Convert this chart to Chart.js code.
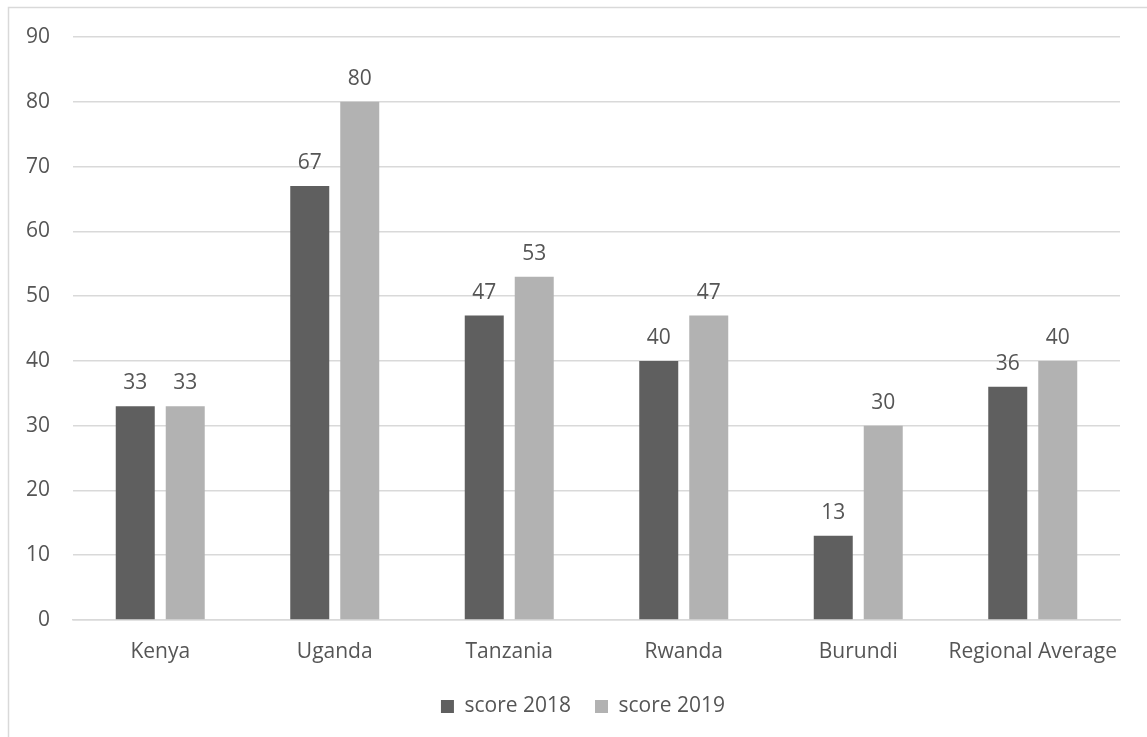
<!DOCTYPE html>
<html>
<head>
<meta charset="utf-8">
<script src="https://cdn.jsdelivr.net/npm/chart.js@4/dist/chart.umd.min.js"></script>
<style>
  html, body { margin: 0; padding: 0; background: #ffffff; }
  #wrap { position: relative; width: 1147px; height: 737px; }
  canvas { display: block; }
</style>
</head>
<body>
<div id="wrap"><canvas id="chart" width="1147" height="737"></canvas></div>
<script>
// Scores per country, 2018 vs 2019
const categories = ['Kenya', 'Uganda', 'Tanzania', 'Rwanda', 'Burundi', 'Regional Average'];
const score2018 = [33, 67, 47, 40, 13, 36];
const score2019 = [33, 80, 53, 47, 30, 40];
const seriesNames = ['score 2018', 'score 2019'];
const yTicks = [0, 10, 20, 30, 40, 50, 60, 70, 80, 90];

const TEXT = '#555555';
const GRID = '#d9d9d9';
const FONT = "'Open Sans', 'Noto Sans', sans-serif";
const FONT_SIZE = 21;

// Frame line along the top and left edges of the chart area
const framePlugin = {
  id: 'frame',
  beforeDraw(chart) {
    const ctx = chart.ctx;
    ctx.save();
    ctx.strokeStyle = GRID;
    ctx.lineWidth = 1.5;
    ctx.strokeRect(8.5, 7.5, chart.width + 20, chart.height + 20);
    ctx.restore();
  }
};

// Centre the legend under the plot area rather than the whole canvas
const legendShift = {
  id: 'legendShift',
  afterLayout(chart) {
    if (chart.legend) chart.legend.left = 46;
  }
};

// Value labels above each bar
const valueLabels = {
  id: 'valueLabels',
  afterDatasetsDraw(chart) {
    const ctx = chart.ctx;
    ctx.save();
    ctx.font = FONT_SIZE + 'px ' + FONT;
    ctx.fillStyle = TEXT;
    ctx.textAlign = 'center';
    ctx.textBaseline = 'alphabetic';
    chart.data.datasets.forEach((ds, di) => {
      chart.getDatasetMeta(di).data.forEach((bar, i) => {
        ctx.fillText(String(ds.data[i]), bar.x, bar.y - 17);
      });
    });
    ctx.restore();
  }
};

new Chart(document.getElementById('chart'), {
  type: 'bar',
  data: {
    labels: categories,
    datasets: [
      { label: seriesNames[0], data: score2018, backgroundColor: '#5f5f5f' },
      { label: seriesNames[1], data: score2019, backgroundColor: '#b2b2b2' }
    ]
  },
  options: {
    responsive: false,
    animation: false,
    devicePixelRatio: 1,
    layout: { padding: { left: 0, right: 27, top: 37, bottom: 10 } },
    datasets: {
      bar: { categoryPercentage: 0.573, barPercentage: 0.78 }
    },
    scales: {
      x: {
        grid: { display: false, drawTicks: false },
        border: { color: GRID, width: 1.5 },
        ticks: { color: TEXT, font: { family: FONT, size: FONT_SIZE }, padding: 19, maxRotation: 0, autoSkip: false },
        afterFit(scale) { scale.height = 52; }
      },
      y: {
        min: 0,
        max: 90,
        afterBuildTicks(scale) { scale.ticks = yTicks.map(v => ({ value: v })); },
        grid: { color: GRID, lineWidth: 1.5, drawTicks: false },
        border: { display: false },
        ticks: { color: TEXT, font: { family: FONT, size: FONT_SIZE }, padding: 23 },
        afterFit(scale) { scale.width = 73; }
      }
    },
    plugins: {
      legend: {
        position: 'bottom',
        labels: {
          color: TEXT,
          font: { family: FONT, size: FONT_SIZE },
          boxWidth: 13,
          boxHeight: 13,
          padding: 24
        }
      },
      tooltip: { enabled: false }
    }
  },
  plugins: [framePlugin, legendShift, valueLabels]
});
</script>
</body>
</html>
